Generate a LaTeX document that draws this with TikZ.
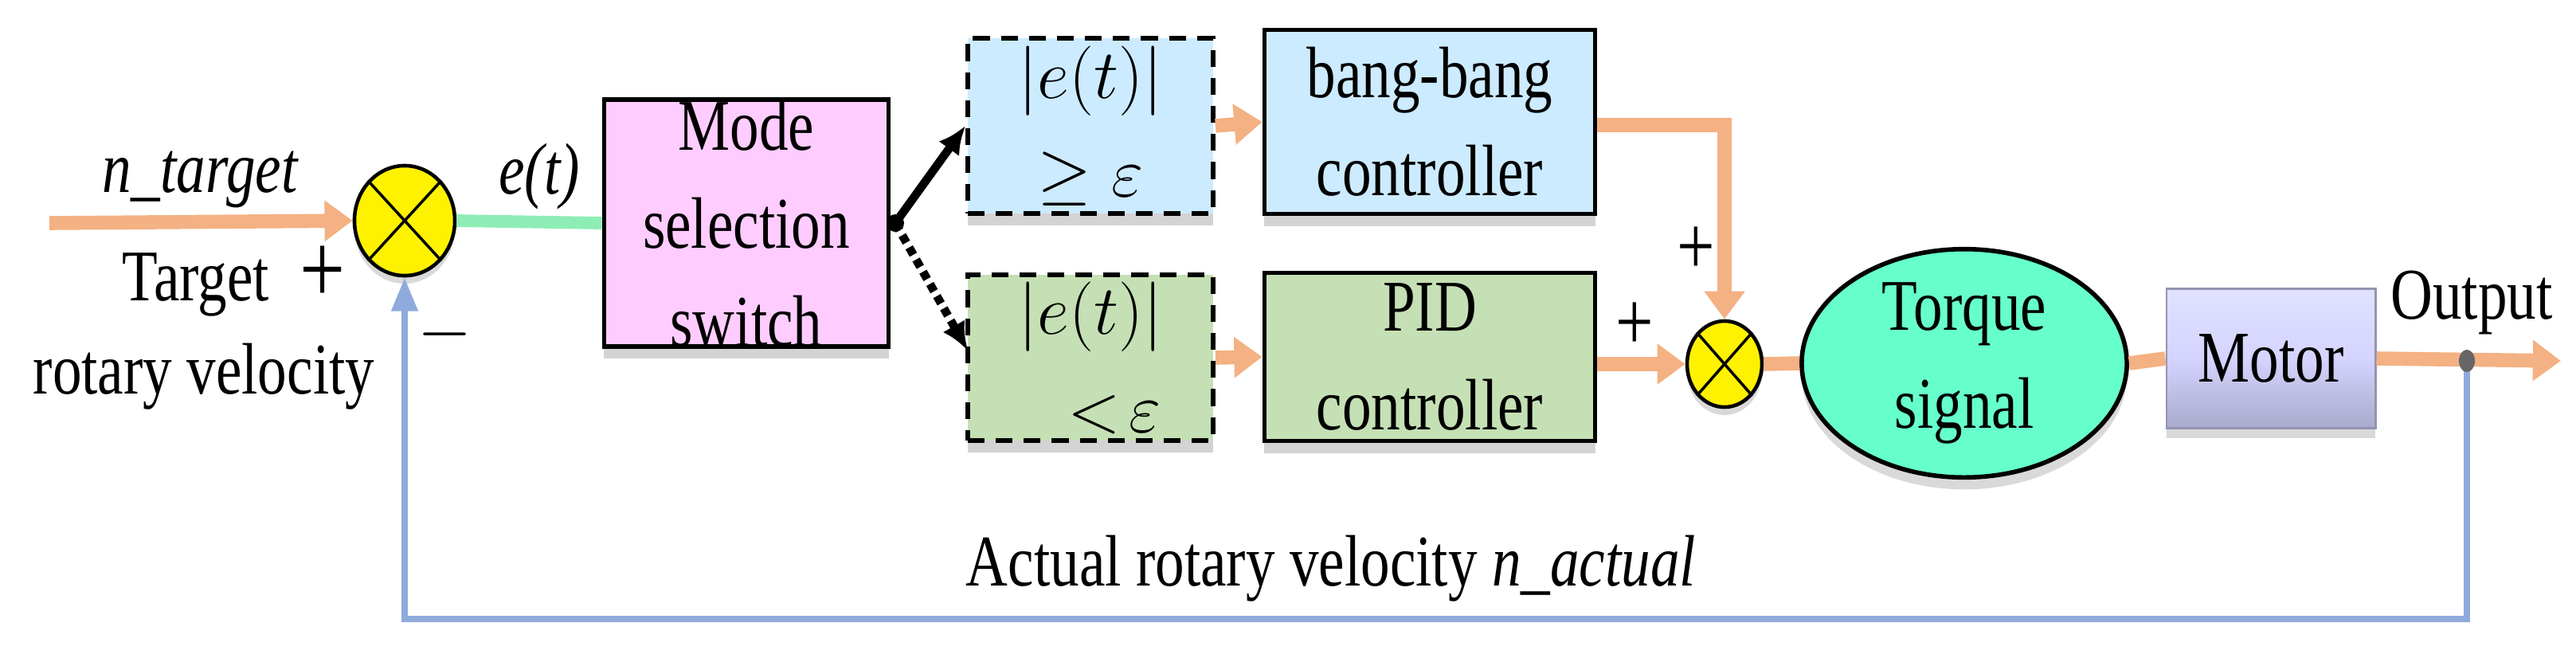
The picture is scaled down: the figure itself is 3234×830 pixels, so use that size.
\documentclass[tikz,border=0pt]{standalone}
\usepackage{fontspec}
\setmainfont{Liberation Serif}[FakeStretch=0.8]
\usetikzlibrary{arrows.meta,shapes.geometric,shadows}
\definecolor{org}{HTML}{F4B183}
\definecolor{fb}{HTML}{8FAADC}
\definecolor{gl}{HTML}{8EEDB5}
\definecolor{pink}{HTML}{FFCCFF}
\definecolor{lblue}{HTML}{CCEBFF}
\definecolor{lgreen}{HTML}{C5E0B4}
\definecolor{torq}{HTML}{66FFCC}
\definecolor{mot}{HTML}{D4D4FF}
\begin{document}
\begin{tikzpicture}[x=0.01cm,y=-0.01cm,
  every node/.style={font=\fontsize{26}{35}\selectfont},
  box/.style={draw,line width=1.6pt,align=center,inner sep=0pt,drop shadow={opacity=0.35,shadow xshift=0pt,shadow yshift=-0.15cm}},
  dbox/.style={box,dashed,dash pattern=on 6pt off 4pt},
  sum/.style={ellipse,draw,line width=1.3pt,fill=yellow,inner sep=0pt,drop shadow={opacity=0.3,shadow xshift=0pt,shadow yshift=-0.1cm}},
  oarr/.style={org,line width=5pt,-{Triangle[width=14pt,length=10pt]}},
  fbl/.style={fb,line width=2.4pt}]
\useasboundingbox (0,0) rectangle (3234,830);
% sum 1
\node[sum,minimum width=1.26cm,minimum height=1.38cm] (s1) at (508,277) {};
\draw[line width=1pt] (s1.north west)--(s1.south east) (s1.north east)--(s1.south west);
\coordinate (in) at (62,280);
\draw[oarr] (in) -- (s1.west);
\node (nt) at (251,225) {\itshape n\_target};
\node (tg) at (246,357) {Target};
\node (p1) at (405,345) {\fontsize{36}{36}\selectfont +};
\node (rv) at (256,473) {rotary velocity};
\node (m1) at (559,420) {\fontsize{36}{36}\selectfont $-$};
% mode
\node[box,fill=pink,minimum width=3.57cm,minimum height=3.05cm] (mode) at (937,280) {Mode\\selection\\switch};
\draw[gl,line width=4.5pt] (s1.east) -- (mode.west);
\node (et) at (677,222) {\itshape e(t)};
% dashed boxes
\node[dbox,fill=lblue,minimum width=3.08cm,minimum height=2.2cm] (db1) at (1369,158) {$|e(t)|$\\$\geq\varepsilon$};
\node[dbox,fill=lgreen,minimum width=3.08cm,minimum height=2.08cm] (db2) at (1369,449) {$|e(t)|$\\\hspace*{0.6cm}$<\!\varepsilon$};
\coordinate (sw) at (1124,280);
\fill (sw) circle (0.11cm);
\draw[line width=3pt,-{Latex[length=10pt,width=9pt]}] (sw) -- (db1.west);
\draw[line width=3pt,dotted,-{Latex[length=10pt,width=9pt]}] (sw) -- (1215,440);
% controllers
\node[box,fill=lblue,minimum width=4.15cm,minimum height=2.31cm] (bb) at (1795,153) {bang-bang\\controller};
\node[box,fill=lgreen,minimum width=4.15cm,minimum height=2.11cm] (pid) at (1795,448) {PID\\controller};
\draw[oarr] (db1.east) -- (bb.west);
\draw[oarr] (db2.east) -- (pid.west);
% sum 2
\node[sum,minimum width=0.94cm,minimum height=1.08cm] (s2) at (2165,457) {};
\draw[line width=1pt] (s2.north west)--(s2.south east) (s2.north east)--(s2.south west);
\draw[oarr] (bb.east |- 0,157) -| (s2.north);
\draw[oarr] (pid.east |- 0,457) -- (s2.west);
\node (p2) at (2129,315) {\fontsize{30}{30}\selectfont +};
\node (p3) at (2052,410) {\fontsize{30}{30}\selectfont +};
% torque
\node[ellipse,draw,line width=1.6pt,fill=torq,minimum width=4.08cm,minimum height=2.35cm,align=center,inner sep=0pt,drop shadow={opacity=0.3,shadow xshift=0pt,shadow yshift=-0.15cm}] (tq) at (2466,456) {Torque\\signal};
\draw[org,line width=5pt] (s2.east) -- (tq.west);
% motor
\node[minimum width=2.62cm,minimum height=1.75cm,top color=mot!70!white,bottom color=mot!80!black,middle color=mot,draw=mot!70!black,line width=0.8pt,drop shadow={opacity=0.3,shadow xshift=0pt,shadow yshift=-0.12cm}] (mo) at (2851,450) {Motor};
\draw[org,line width=5pt] (tq.east) -- (mo.west);
% output
\coordinate (od) at (3097,453);
\coordinate (oe) at (3215,453);
\draw[oarr] (mo.east) -- (oe);
\node (out) at (3103,380) {Output};
% feedback
\coordinate (fb1) at (3097,777);
\coordinate (fb2) at (508,777);
\draw[fbl,-{Triangle[width=9pt,length=12pt]}] (od) -- (fb1) -- (fb2) -- (s1.south);
\fill[gray!80!black] (od) ellipse (0.1cm and 0.14cm);
\node (act) at (1671,714) {Actual rotary velocity \itshape n\_actual};
\end{tikzpicture}
\end{document}
